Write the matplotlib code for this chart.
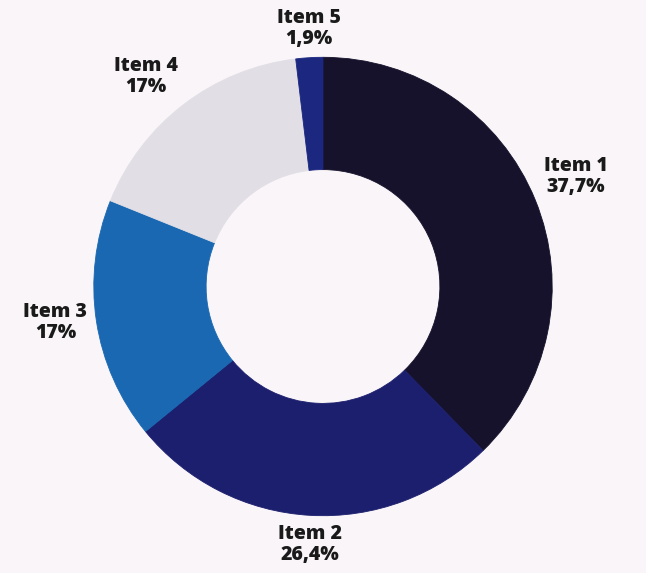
import matplotlib.pyplot as plt
import numpy as np

plt.rcParams['font.family'] = ['Open Sans', 'DejaVu Sans']

# Data
items = ["Item 1", "Item 2", "Item 3", "Item 4", "Item 5"]
shares = [37.7, 26.4, 17, 17, 1.9]
share_labels = ["37,7%", "26,4%", "17%", "17%", "1,9%"]
colors = ["#16122c", "#1c1f6e", "#1a68b2", "#e1dfe5", "#1c2780"]
bg = "#f9f5f8"

fig = plt.figure(figsize=(6.46, 5.73), dpi=100, facecolor=bg)
ax = fig.add_axes([0, 0, 1, 1])
ax.set_facecolor(bg)

# ring geometry in pixels -> data units (1 unit = outer radius)
R = 230.0
cx, cy = 326.0, 286.5
ax.set_xlim(-cx / R, (646 - cx) / R)
ax.set_ylim(-(573 - cy) / R, cy / R)
ax.set_aspect('equal')
ax.axis('off')

wedges, _ = ax.pie(shares, colors=colors, startangle=90, counterclock=False,
                   radius=1.0, wedgeprops=dict(width=0.49, linewidth=0))
# close the hairline seams between neighbouring wedges
for w in wedges:
    w.set_edgecolor(w.get_facecolor())
    w.set_linewidth(0.6)

for w, name, lab in zip(wedges, items, share_labels):
    ang = np.deg2rad((w.theta1 + w.theta2) / 2)
    c, s = np.cos(ang), np.sin(ang)
    ha = 'left' if c > 0.3 else ('right' if c < -0.3 else 'center')
    va = 'bottom' if s > 0.3 else ('top' if s < -0.3 else 'center')
    ax.text(1.04 * c, 1.04 * s, f"{name}\n{lab}", ha=ha, va=va,
            multialignment='center', fontsize=14, fontweight='heavy',
            color="#1a1a1a", linespacing=1.05)

fig.savefig("out.png", dpi=100, facecolor=bg)
